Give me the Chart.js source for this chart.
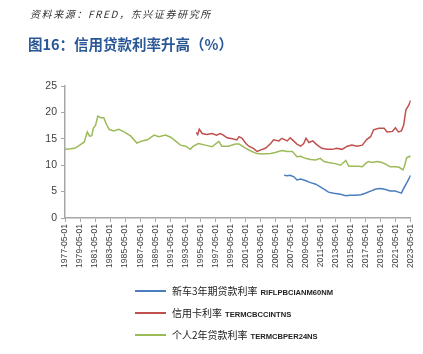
<!DOCTYPE html>
<html><head><meta charset="utf-8">
<script src="https://cdn.jsdelivr.net/npm/chart.js@4/dist/chart.umd.min.js"></script>
<style>
html,body{margin:0;padding:0;background:#fff;}
#wrap{position:relative;width:423px;height:354px;overflow:hidden;}
#c{position:absolute;left:0;top:0;}
.src{position:absolute;left:30px;top:6px;font:italic 10px "Noto Sans CJK SC","Liberation Sans",sans-serif;letter-spacing:1.6px;color:#333;}
.ttl{position:absolute;left:28px;top:33px;font:bold 14.5px "Noto Sans CJK SC",sans-serif;color:#2a5896;}
.lg{position:absolute;left:135px;height:14px;font:10px "Noto Sans CJK SC",sans-serif;color:#222;white-space:nowrap;}
.lg i{display:inline-block;width:31px;height:2px;vertical-align:middle;margin-right:6px;position:relative;top:-1px;}
.lg b{font:bold 7.6px "Liberation Sans",sans-serif;margin-left:3px;}
</style></head>
<body><div id="wrap">
<canvas id="c" width="423" height="354"></canvas>
<div class="src">资料来源：FRED，东兴证券研究所</div>
<div class="ttl">图16：信用贷款利率升高（%）</div>
<div id="legend"></div>
</div>
<script>
// tick labels (every two years)
const tickLabels = ['1977-05-01','1979-05-01','1981-05-01','1983-05-01','1985-05-01','1987-05-01','1989-05-01','1991-05-01','1993-05-01','1995-05-01','1997-05-01','1999-05-01','2001-05-01','2003-05-01','2005-05-01','2007-05-01','2009-05-01','2011-05-01','2013-05-01','2015-05-01','2017-05-01','2019-05-01','2021-05-01','2023-05-01'];
const yTicks = [0,5,10,15,20,25];

// series names
const seriesNames = ['新车3年期贷款利率','信用卡利率','个人2年贷款利率'];
const seriesCodes = ['RIFLPBCIANM60NM','TERMCBCCINTNS','TERMCBPER24NS'];

// 新车3年期贷款利率 RIFLPBCIANM60NM (decimal years, %)
const autoDates = [2006.5,2006.9,2007.3,2007.8,2008.2,2008.7,2009.3,2010.0,2010.7,2011.3,2012.0,2012.4,2013.1,2014.0,2014.7,2015.3,2016.0,2016.7,2017.3,2018.0,2018.7,2019.3,2020.0,2020.6,2021.3,2021.7,2022.1,2022.4,2022.9,2023.33];
const autoRates = [8.1,8.0,8.1,7.8,7.2,7.4,7.1,6.7,6.4,5.9,5.3,4.9,4.7,4.5,4.2,4.3,4.3,4.4,4.7,5.1,5.5,5.6,5.4,5.1,5.1,4.9,4.7,5.6,6.9,8.1];

// 信用卡利率 TERMCBCCINTNS
const cardDates = [1994.8,1995.0,1995.2,1995.6,1996.2,1996.9,1997.5,1998.0,1998.4,1998.9,1999.6,2000.2,2000.5,2000.9,2001.4,2001.8,2002.4,2002.9,2003.4,2004.0,2004.7,2005.1,2005.8,2006.2,2006.9,2007.3,2007.6,2008.2,2008.7,2009.1,2009.4,2009.8,2010.3,2010.9,2011.5,2012.2,2012.9,2013.5,2014.2,2014.9,2015.5,2016.2,2016.9,2017.5,2018.0,2018.4,2019.1,2019.8,2020.2,2020.9,2021.3,2021.7,2022.1,2022.4,2022.7,2023.1,2023.33];
const cardRates = [16.2,15.8,16.8,16.0,15.8,16.0,15.7,16.0,15.7,15.2,15.0,14.8,15.4,15.1,14.1,13.6,13.2,12.6,12.9,13.2,14.1,14.8,14.6,15.1,14.6,15.2,14.8,14.0,13.6,14.1,15.1,14.3,14.6,13.8,13.2,13.0,13.0,13.2,13.0,13.6,13.8,13.6,13.8,14.9,15.4,16.7,17.0,17.0,16.3,16.4,17.1,16.3,16.5,17.6,20.5,21.4,22.3];

// 个人2年贷款利率 TERMCBPER24NS
const personalDates = [1977.33,1978.1,1978.6,1979.2,1979.9,1980.3,1980.6,1980.9,1981.1,1981.4,1981.7,1982.1,1982.5,1982.8,1983.2,1983.8,1984.5,1985.2,1986.1,1986.9,1987.6,1988.3,1989.2,1989.8,1990.7,1991.4,1992.1,1992.7,1993.4,1994.0,1994.4,1995.1,1996.0,1996.9,1997.8,1998.2,1999.1,2000.0,2000.5,2001.4,2002.2,2002.9,2003.6,2004.7,2005.3,2006.2,2006.9,2007.6,2008.2,2008.7,2009.3,2010.0,2010.7,2011.3,2011.8,2012.4,2013.3,2014.0,2014.7,2015.1,2015.8,2016.4,2016.9,2017.3,2017.7,2018.2,2018.9,2019.5,2020.0,2020.6,2021.3,2021.8,2022.3,2022.5,2022.8,2023.2,2023.33];
const personalRates = [13.0,13.1,13.2,13.7,14.4,16.3,15.5,15.6,17.0,17.6,19.3,19.0,19.0,17.9,16.8,16.5,16.8,16.3,15.5,14.2,14.6,14.8,15.7,15.4,15.7,15.3,14.5,13.8,13.6,13.0,13.6,14.1,13.8,13.5,14.5,13.6,13.6,14.0,14.0,13.2,12.6,12.2,12.1,12.2,12.4,12.8,12.6,12.6,11.6,11.7,11.3,11.1,11.0,11.3,10.7,10.5,10.3,10.0,10.9,9.8,9.8,9.8,9.7,10.3,10.7,10.5,10.7,10.5,10.2,9.7,9.7,9.6,9.1,9.8,11.4,11.7,11.6];

const colors = ['#4a7ebf','#c0504d','#9bbb59'];
const pts = (xs, ys) => xs.map((x,i)=>({x:x, y:ys[i]}));
const tickVal = s => parseInt(s.slice(0,4),10) + 4/12;

// HTML legend
const lg = document.getElementById('legend');
seriesNames.forEach((n,i)=>{
  const d = document.createElement('div');
  d.className='lg';
  d.style.top = (283 + i*22) + 'px';
  d.innerHTML = '<i style="background:'+colors[i]+'"></i>'+n+'<b>'+seriesCodes[i]+'</b>';
  lg.appendChild(d);
});

const axisColor = '#a6a6a6';
new Chart(document.getElementById('c'), {
  type: 'line',
  data: {
    datasets: [
      {label: seriesNames[0], data: pts(autoDates, autoRates), borderColor: colors[0]},
      {label: seriesNames[1], data: pts(cardDates, cardRates), borderColor: colors[1]},
      {label: seriesNames[2], data: pts(personalDates, personalRates), borderColor: colors[2]}
    ].map(d=>Object.assign(d,{borderWidth:1.5,pointRadius:0,tension:0,fill:false}))
  },
  options: {
    responsive: false,
    animation: false,
    layout: {padding: {top: 86, right: 8, left: 0, bottom: 0}},
    plugins: {legend: {display: false}, tooltip: {enabled: false}},
    scales: {
      x: {
        type: 'linear',
        min: tickVal(tickLabels[0]),
        max: tickVal(tickLabels[tickLabels.length-1]),
        afterBuildTicks: s => { s.ticks = tickLabels.map(t=>({value: tickVal(t)})); },
        afterFit: s => { s.height = 136; },
        grid: {display: true, drawOnChartArea: false, drawTicks: true, tickLength: 4, color: axisColor},
        border: {display: true, color: axisColor, width: 1.5},
        ticks: {
          autoSkip: false, maxRotation: 90, minRotation: 90, padding: 2,
          color: '#404040', font: {family: '"Liberation Sans", sans-serif', size: 8.6},
          callback: (v, i) => tickLabels[i]
        }
      },
      y: {
        min: 0, max: 25,
        afterBuildTicks: s => { s.ticks = yTicks.map(v=>({value:v})); },
        afterFit: s => { s.width = 65; },
        grid: {display: true, drawOnChartArea: false, drawTicks: true, tickLength: 4, color: axisColor},
        border: {display: true, color: axisColor, width: 1.5},
        ticks: {color: '#404040', padding: 4, font: {family: '"Liberation Sans", sans-serif', size: 10.5}}
      }
    }
  }
});
</script>
</body></html>
